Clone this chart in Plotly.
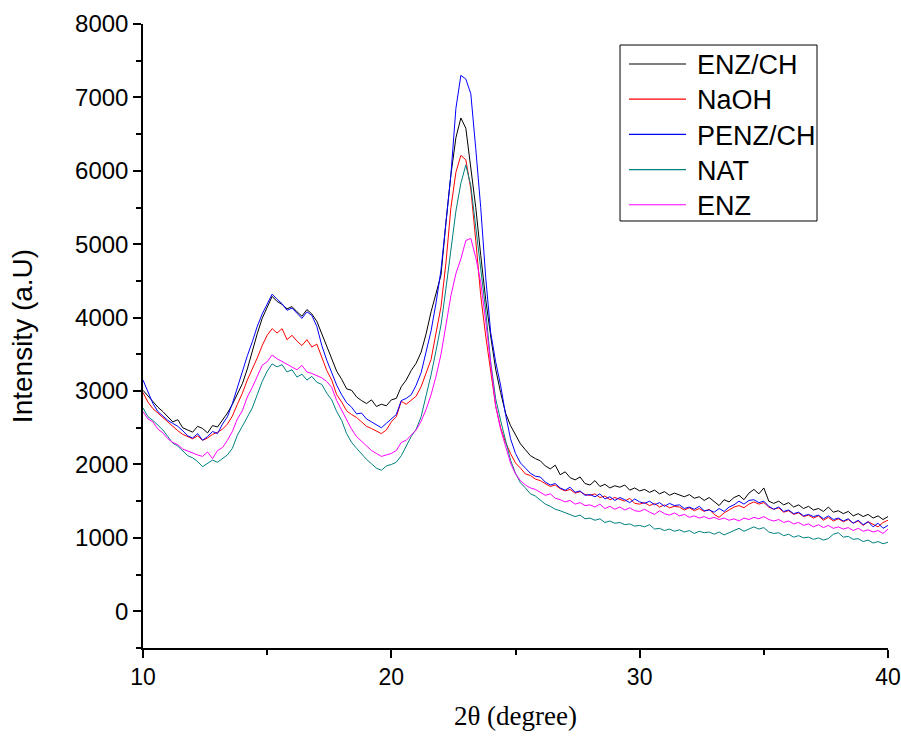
import numpy as np
import plotly.graph_objects as go

# 2-theta grid (0.2 degree steps, 10..40)
two_theta = np.round(np.arange(10.0, 40.0001, 0.2), 1)

enz_ch = [
    3010, 2930, 2850, 2780, 2720, 2650, 2580, 2610, 2500, 2470,
    2440, 2520, 2490, 2430, 2530, 2510, 2600, 2700, 2820, 2960,
    3100, 3300, 3560, 3780, 3990, 4130, 4290, 4220, 4180, 4120,
    4150, 4080, 4020, 4110, 4050, 3950, 3780, 3600, 3450, 3270,
    3160, 3030, 3010, 2920, 2870, 2830, 2880, 2790, 2820, 2800,
    2880, 2900, 3060, 3150, 3280, 3380, 3530, 3780, 4080, 4320,
    4580, 5300, 5950, 6450, 6720, 6580, 6050, 5500, 4850, 4250,
    3750, 3300, 2980, 2700, 2530, 2400, 2280, 2200, 2120, 2080,
    2050, 1980, 1940, 1990, 1860, 1900, 1820, 1790, 1830, 1740,
    1720, 1780, 1700, 1730, 1680, 1710, 1690, 1720, 1650, 1680,
    1640, 1660, 1620, 1650, 1600, 1630, 1580, 1610, 1590, 1560,
    1590, 1540, 1560, 1510, 1550, 1500, 1440, 1520, 1490, 1550,
    1580, 1520, 1610, 1660, 1600, 1680, 1500, 1470, 1500, 1450,
    1480, 1420, 1450, 1400, 1430, 1380, 1400, 1360, 1420, 1350,
    1370, 1330, 1360, 1300, 1330, 1290, 1320, 1270, 1300, 1250,
    1290,
]

naoh = [
    2980, 2850, 2760, 2700, 2640, 2570, 2510, 2460, 2410, 2380,
    2350, 2390, 2330, 2360, 2410, 2440, 2480, 2550, 2660, 2820,
    2970, 3150, 3290, 3450, 3620, 3760, 3850, 3790, 3850, 3700,
    3760, 3680, 3620, 3700, 3600, 3640, 3460, 3280, 3150, 2950,
    2850, 2730, 2680, 2640, 2580, 2520, 2490, 2450, 2420, 2470,
    2580, 2650, 2860, 2820, 2880, 2930, 3060, 3250, 3430, 3790,
    4150, 4750, 5500, 5980, 6210, 6150, 5750, 5050, 4300, 3750,
    3250, 2800, 2500, 2300, 2150, 2020, 1950, 1870, 1850, 1800,
    1780, 1740, 1700, 1720, 1670, 1640, 1660, 1610, 1630, 1590,
    1580, 1600, 1550, 1570, 1520, 1550, 1530, 1500, 1540, 1470,
    1460, 1480, 1440, 1470, 1420, 1450, 1410, 1430, 1420, 1380,
    1410, 1370, 1400, 1360, 1390, 1320, 1280, 1340, 1380, 1420,
    1440, 1410, 1460, 1490, 1460, 1480, 1420, 1390, 1410, 1350,
    1370, 1320, 1340, 1290, 1310, 1270, 1300, 1240, 1280, 1230,
    1260, 1220, 1250, 1200, 1230, 1170, 1220, 1180, 1150, 1210,
    1240,
]

penz_ch = [
    3150, 2980, 2830, 2720, 2660, 2600, 2560, 2520, 2460, 2390,
    2360, 2420, 2330, 2380, 2450, 2420, 2550, 2650, 2830, 3050,
    3250, 3480, 3670, 3880, 4050, 4180, 4320, 4250, 4190, 4100,
    4130, 4060, 3990, 4080, 4030, 3880, 3620, 3420, 3250, 3080,
    2950, 2840, 2780, 2690, 2700, 2620, 2580, 2540, 2500, 2560,
    2620, 2680, 2870, 2900, 2950, 3080, 3250, 3520, 3820, 4200,
    4650, 5300, 5950, 6850, 7300, 7250, 7050, 6300, 5500, 4550,
    3800, 3400, 3080, 2680, 2350, 2150, 2020, 1950, 1880, 1840,
    1830, 1760, 1720, 1740, 1680, 1650, 1690, 1620, 1640, 1580,
    1590, 1560, 1600, 1530, 1560, 1510, 1550, 1520, 1480, 1530,
    1490, 1470, 1500, 1450, 1480, 1430, 1470, 1440, 1450, 1400,
    1420, 1390, 1430, 1370, 1380, 1350, 1400, 1360, 1420, 1450,
    1500, 1460, 1510, 1520, 1480, 1500, 1430, 1390, 1420, 1360,
    1380, 1330, 1350, 1300, 1320, 1290, 1310, 1260, 1300, 1250,
    1270, 1230, 1260, 1200, 1240, 1180, 1220, 1150, 1200, 1130,
    1170,
]

nat = [
    2770, 2650, 2600, 2540, 2470, 2380, 2290, 2250, 2180, 2120,
    2090, 2040, 1970, 2010, 2060, 2030, 2080, 2130, 2220, 2400,
    2520, 2650, 2770, 2950, 3130, 3270, 3370, 3330, 3360, 3260,
    3290, 3190, 3230, 3150, 3200, 3120, 3090, 2970, 2880, 2720,
    2600, 2420, 2300, 2220, 2140, 2070, 2010, 1950, 1920, 1980,
    2000, 2030, 2120, 2250, 2380, 2480, 2650, 2940, 3220, 3550,
    3900, 4400, 4950, 5450, 5830, 6080, 5800, 5250, 4650, 4100,
    3400, 2900, 2600, 2330, 2060, 1880, 1750, 1680, 1600, 1570,
    1520, 1460, 1430, 1390, 1370, 1340, 1320, 1290, 1310, 1260,
    1270, 1240, 1260, 1210, 1230, 1200, 1210, 1180, 1190, 1160,
    1170, 1150, 1180, 1120, 1130, 1100, 1120, 1090, 1110, 1080,
    1100, 1060, 1090, 1070, 1080, 1050, 1080, 1040, 1070, 1100,
    1130, 1090, 1120, 1150, 1120, 1140, 1080, 1060, 1070, 1030,
    1050, 1010, 1030, 1000, 1010, 980, 1000, 970, 990, 1050,
    1070, 1010, 1020, 980, 990, 950, 970, 930, 950, 920,
    940,
]

enz = [
    2720, 2620, 2580, 2480, 2430, 2350, 2300, 2270, 2210, 2180,
    2150, 2130, 2110, 2170, 2080, 2190, 2230, 2330, 2450, 2620,
    2730, 2920, 3050, 3200, 3350, 3400, 3490, 3440, 3400, 3370,
    3330, 3290, 3350, 3260, 3240, 3210, 3180, 3130, 3050, 2870,
    2740, 2590, 2480, 2380, 2320, 2250, 2190, 2150, 2110, 2130,
    2150, 2190, 2300, 2330, 2400, 2470, 2590, 2750, 2950, 3200,
    3500, 3900, 4300, 4600, 4800, 5050, 5080, 4820, 4480, 3950,
    3350, 2800, 2480, 2250, 2020, 1870, 1780, 1720, 1680, 1660,
    1620, 1580, 1600, 1540, 1520, 1490, 1510, 1460, 1480, 1440,
    1450, 1420, 1460, 1400, 1430, 1390, 1420, 1380, 1410, 1370,
    1360, 1390, 1350, 1320, 1370, 1330, 1310, 1340, 1300, 1320,
    1280, 1300, 1270, 1290, 1260, 1280, 1250, 1270, 1240, 1260,
    1230, 1270, 1250, 1280, 1260, 1290, 1250, 1230, 1250, 1210,
    1230, 1190, 1210, 1170, 1190, 1150, 1180, 1140, 1170, 1130,
    1150, 1120, 1140, 1100, 1130, 1090, 1110, 1080, 1100, 1060,
    1120,
]

series_names = ["ENZ/CH", "NaOH", "PENZ/CH", "NAT", "ENZ"]
series_values = [enz_ch, naoh, penz_ch, nat, enz]
series_colors = ["#000000", "#FF0000", "#0000FF", "#008080", "#FF00FF"]

fig = go.Figure()
for name, vals, col in zip(series_names, series_values, series_colors):
    fig.add_trace(go.Scatter(x=two_theta, y=vals, mode="lines", name=name,
                             line=dict(color=col, width=1), showlegend=False))

sans = "Liberation Sans, Arial, sans-serif"

# Legend box (drawn in paper coordinates, like the boxed legend of the original)
shapes = [dict(type="rect", xref="paper", yref="paper",
               x0=0.6403, x1=0.9047, y0=0.6843, y1=0.9663,
               line=dict(color="black", width=1), fillcolor="white", layer="above")]
annotations = []
row_y0 = 0.9359   # first entry centre
row_step = 0.0564  # spacing between entries
for i, (name, col) in enumerate(zip(series_names, series_colors)):
    yy = row_y0 - i * row_step
    shapes.append(dict(type="line", xref="paper", yref="paper",
                       x0=0.6523, x1=0.7289, y0=yy, y1=yy,
                       line=dict(color=col, width=1.2), layer="above"))
    annotations.append(dict(xref="paper", yref="paper", x=0.7409, y=yy - 0.002,
                            xanchor="left", yanchor="middle", showarrow=False,
                            text=name, font=dict(family=sans, size=27, color="black")))

fig.update_layout(
    width=901, height=738,
    margin=dict(l=143, r=13, t=24, b=90),
    plot_bgcolor="white", paper_bgcolor="white",
    font=dict(family=sans, color="black"),
    showlegend=False,
    shapes=shapes,
    annotations=annotations,
    xaxis=dict(
        range=[10, 40], tickmode="linear", tick0=10, dtick=10,
        automargin=False, ticklabeloverflow="allow",
        showgrid=False, zeroline=False,
        showline=True, linecolor="black", linewidth=1.5,
        ticks="outside", ticklen=8, tickwidth=1.5, tickcolor="black",
        minor=dict(ticks="outside", ticklen=5, tickwidth=1.5, tickcolor="black", dtick=5, showgrid=False),
        tickfont=dict(family=sans, size=23, color="black"),
        title=dict(text="2θ (degree)", standoff=17,
                   font=dict(family="Liberation Serif, Times New Roman, serif", size=27, color="black")),
    ),
    yaxis=dict(
        range=[-500, 8000], tickmode="linear", tick0=0, dtick=1000,
        automargin=False,
        showgrid=False, zeroline=False,
        showline=True, linecolor="black", linewidth=1.5,
        ticks="outside", ticklen=8, tickwidth=1.5, tickcolor="black",
        minor=dict(ticks="outside", ticklen=5, tickwidth=1.5, tickcolor="black", dtick=500, showgrid=False),
        tickfont=dict(family=sans, size=24, color="black"),
        title=dict(text="Intensity (a.U)", standoff=34,
                   font=dict(family=sans, size=28, color="black")),
    ),
)

# remove the browser's default page margin so the 901x738 figure fills the window
fig.write_html("out.html",
               config={"displayModeBar": False},
               post_script="document.body.style.margin='0px';document.body.style.overflow='hidden';")
